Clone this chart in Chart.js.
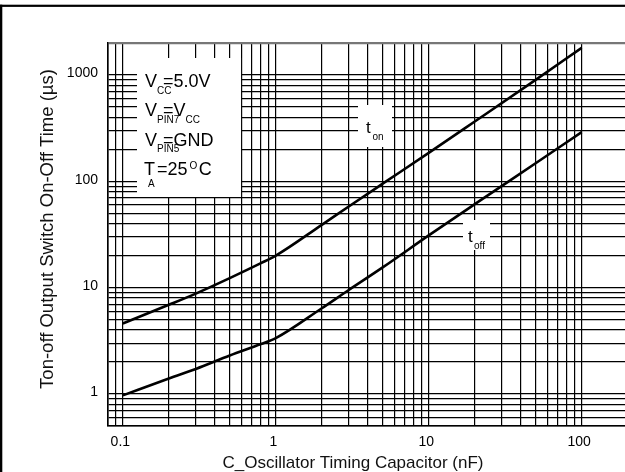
<!DOCTYPE html>
<html>
<head>
<meta charset="utf-8">
<script src="https://cdn.jsdelivr.net/npm/chart.js@4/dist/chart.umd.min.js"></script>
<style>
html,body{margin:0;padding:0;background:#fff;}
#wrap{position:relative;width:625px;height:472px;}
</style>
</head>
<body>
<div id="wrap"><canvas id="c"></canvas></div>
<script>
// ---- data ----
const capNf  = [0.1, 0.2, 0.3, 0.5, 0.8, 1, 2, 3, 5, 10, 20, 50, 100];
const tOnUs  = [4.6, 6.9, 8.8, 12.3, 17, 20, 39, 58, 95, 185, 365, 900, 1800];
const tOffUs = [0.97, 1.40, 1.72, 2.30, 2.95, 3.35, 6.4, 9.5, 15.5, 31, 61, 148, 290];

const xGrid = [0.08,0.09,0.1,0.2,0.3,0.4,0.5,0.6,0.7,0.8,0.9,1,2,3,4,5,6,7,8,9,10,20,30,40,50,60,70,80,90,100];
const xLabels = [0.1, 1, 10, 100];
const yGrid = [0.5,0.6,0.7,0.8,0.9,1,2,3,4,5,6,7,8,9,10,20,30,40,50,60,70,80,90,100,200,300,400,500,600,700,800,900,1000,2000];
const yLabels = [1, 10, 100, 1000];

const xTitle = 'C_Oscillator Timing Capacitor (nF)';
const yTitle = 'Ton-off Output Switch On-Off Time (\u00B5s)';

const FONT = '"Liberation Sans", Arial, Helvetica, sans-serif';

const toPts = (xs, ys) => xs.map((x, i) => ({x: x, y: ys[i]}));

const annot = {
  id: 'annot',
  afterDraw(chart) {
    const ctx = chart.ctx;
    const xs = chart.scales.x, ys = chart.scales.y;
    ctx.save();
    // outer frame
    ctx.fillStyle = '#000';
    ctx.fillRect(0, 4.7, 625, 2.2);
    ctx.fillRect(0, 4.7, 2.3, 472);

    const txt = (s, x, y, size) => {
      ctx.font = size + 'px ' + FONT;
      ctx.textAlign = 'left';
      ctx.textBaseline = 'alphabetic';
      ctx.fillText(s, x, y);
      return ctx.measureText(s).width;
    };

    // condition box
    ctx.fillStyle = '#fff';
    const bx1 = xs.getPixelForValue(0.6) - 0.8;
    const by1 = ys.getPixelForValue(70) - 0.8;
    ctx.fillRect(137, 58, bx1 - 137, by1 - 58);
    ctx.fillStyle = '#000';
    // line 1
    txt('V', 145, 86.5, 18); txt('CC', 157, 93.5, 10); txt('=5.0V', 163, 86.5, 18);
    // line 2
    txt('V', 145, 116, 18); txt('PIN7', 157, 122.5, 10);
    const w2 = txt('=V', 163, 116, 18); txt('CC', 163 + w2, 122.5, 10);
    // line 3
    txt('V', 145, 145.5, 18); txt('PIN5', 157, 152, 10); txt('=GND', 163, 145.5, 18);
    // line 4
    txt('T', 144, 175, 18); txt('A', 148, 186.5, 10);
    const w4 = txt('=25', 157, 175, 18);
    const wo = txt('O', 157 + w4 + 2, 168.5, 10);
    txt('C', 157 + w4 + 2 + wo + 1.5, 175, 18);

    // curve labels
    ctx.fillStyle = '#fff';
    ctx.fillRect(358, 105, 34, 42);
    ctx.fillRect(463, 220, 27, 30);
    ctx.fillStyle = '#000';
    txt('t', 366, 133, 17); txt('on', 372.5, 140, 10);
    txt('t', 468, 242, 17); txt('off', 474, 248.5, 10);

    // axis titles
    ctx.fillStyle = '#111';
    ctx.font = '17px ' + FONT;
    ctx.textAlign = 'center';
    ctx.textBaseline = 'middle';
    ctx.fillText(xTitle, 353, 463);
    ctx.save();
    ctx.translate(48, 229);
    ctx.rotate(-Math.PI / 2);
    ctx.font = '18.5px ' + FONT;
    ctx.fillText(yTitle, 0, 0);
    ctx.restore();
    ctx.restore();
  }
};

new Chart(document.getElementById('c'), {
  type: 'line',
  data: {
    datasets: [
      {label: 'ton', data: toPts(capNf, tOnUs), borderColor: '#000', borderWidth: 2.6,
       pointRadius: 0, cubicInterpolationMode: 'monotone', fill: false},
      {label: 'toff', data: toPts(capNf, tOffUs), borderColor: '#000', borderWidth: 2.6,
       pointRadius: 0, cubicInterpolationMode: 'monotone', fill: false}
    ]
  },
  options: {
    responsive: true,
    maintainAspectRatio: false,
    animation: false,
    events: [],
    layout: {padding: {left: 0, top: 43, right: 0, bottom: 0}},
    plugins: {legend: {display: false}, tooltip: {enabled: false}},
    scales: {
      x: {
        type: 'logarithmic',
        min: 0.08, max: 192,
        afterBuildTicks: (s) => { s.ticks = xGrid.map(v => ({value: v})); },
        afterFit: (s) => { s.height = 46; },
        grid: {
          color: '#000', lineWidth: 1.2, drawTicks: false
        },
        border: {display: true, color: '#000', width: 1.6},
        ticks: {
          autoSkip: false, maxRotation: 0, minRotation: 0, padding: 8, labelOffset: -2.5,
          color: '#000', font: {family: FONT, size: 14},
          callback: (v) => xLabels.includes(v) ? String(v) : ''
        },
        title: {display: false}
      },
      y: {
        type: 'logarithmic',
        min: 0.5, max: 2000,
        afterBuildTicks: (s) => { s.ticks = yGrid.map(v => ({value: v})); },
        afterFit: (s) => { s.width = 108; },
        grid: {
          color: (c) => (c.tick && c.tick.value === 2000) ? '#777' : '#000',
          lineWidth: (c) => (c.tick && c.tick.value === 2000) ? 2.2 : 1.2,
          drawTicks: false
        },
        border: {display: true, color: '#000', width: 1.6},
        ticks: {
          autoSkip: false, padding: 10, labelOffset: -1.5,
          color: '#000', font: {family: FONT, size: 14},
          callback: (v) => yLabels.includes(v) ? String(v) : ''
        },
        title: {display: false}
      }
    }
  },
  plugins: [annot]
});
</script>
</body>
</html>
